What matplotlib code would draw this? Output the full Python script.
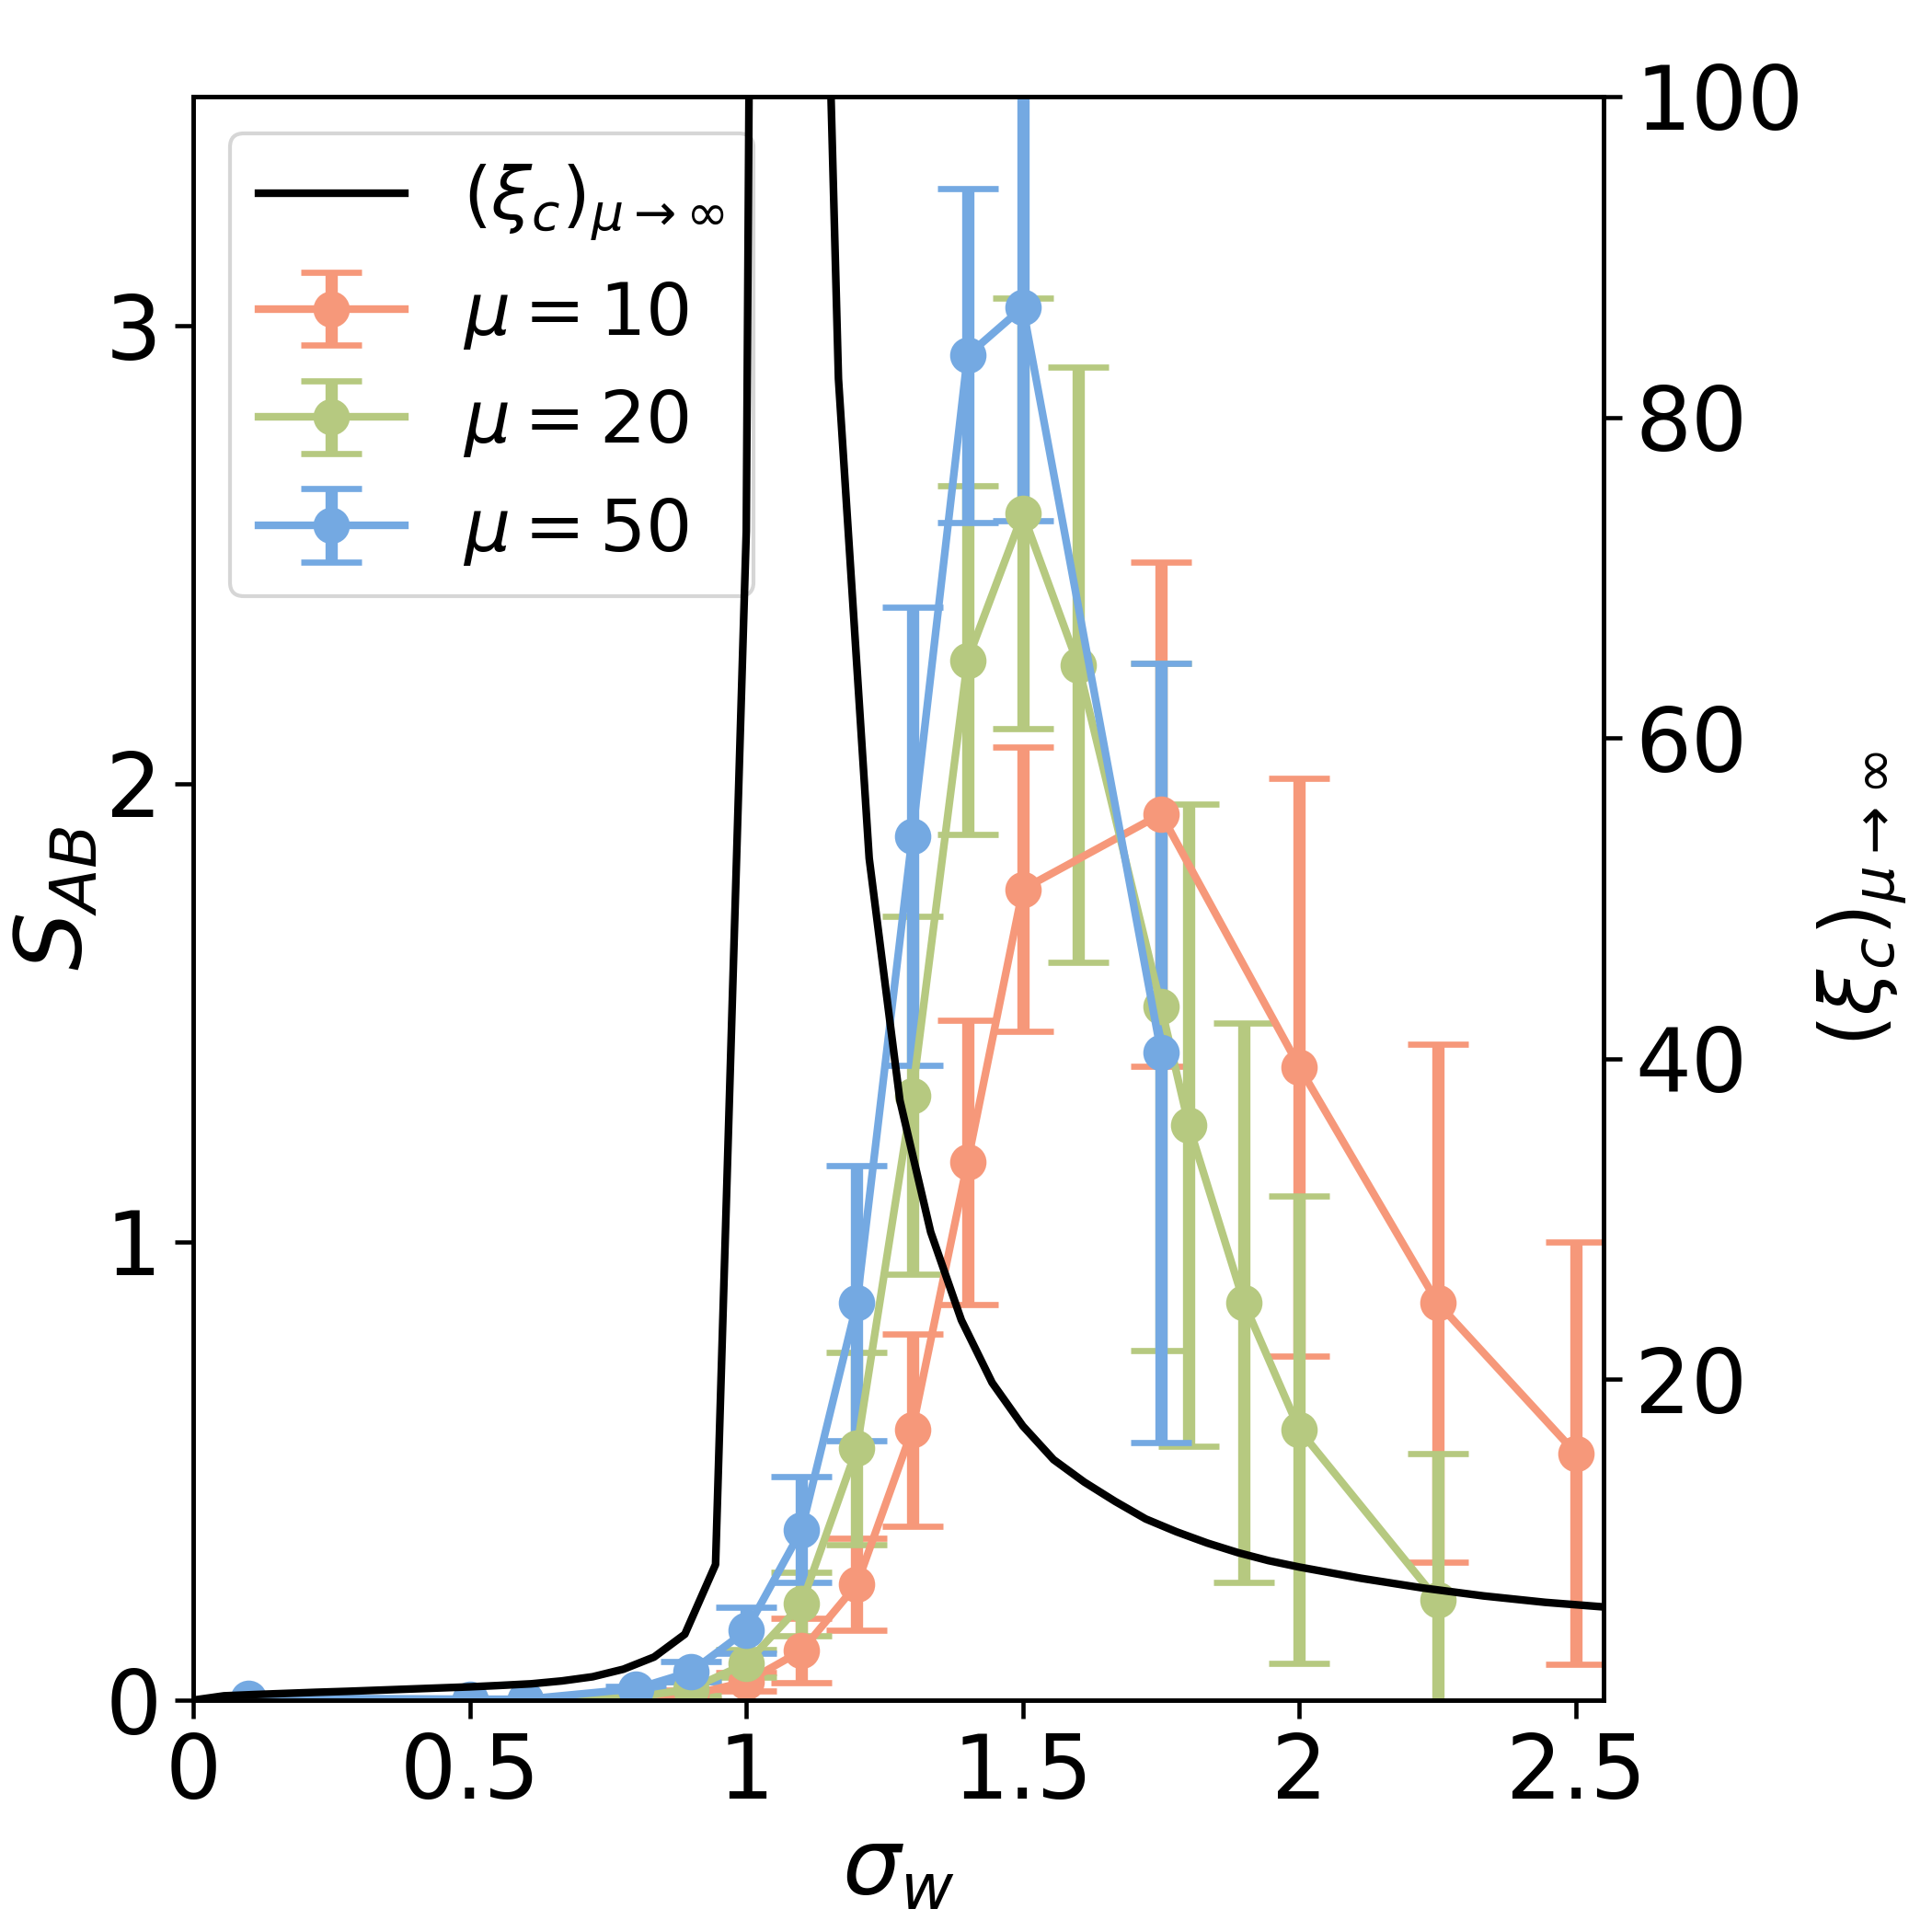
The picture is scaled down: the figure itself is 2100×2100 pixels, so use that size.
import numpy as np
import matplotlib
matplotlib.use("Agg")
import matplotlib.pyplot as plt

# sigma_w grid of the mu -> infinity curve (step 1/18)
sig_inf = [k / 18 for k in range(48)]
xi_inf = [0.0, 0.27, 0.35, 0.42, 0.49, 0.55, 0.62, 0.69, 0.76, 0.83,
          0.92, 1.02, 1.2, 1.46, 1.93, 2.69, 4.11, 8.46, 72.9, 380.0,
          155.0, 82.4, 52.5, 37.4, 29.2, 23.7, 19.8, 17.1, 15.0, 13.6,
          12.4, 11.3, 10.5, 9.8, 9.2, 8.7, 8.3, 7.95, 7.6, 7.3,
          7.0, 6.75, 6.5, 6.3, 6.1, 5.95, 5.8, 5.65]

# mu = 10
sig_10 = [0.1, 0.5, 0.6, 0.8, 0.9, 1.0, 1.1, 1.2, 1.3, 1.4, 1.5, 1.75, 2.0, 2.25, 2.5]
s_10 = [0.0, 0.0, 0.0, 0.003, 0.012, 0.04, 0.108, 0.253, 0.59, 1.174, 1.77, 1.934, 1.382, 0.867, 0.539]
e_10 = [0.0, 0.0, 0.0, 0.003, 0.01, 0.02, 0.07, 0.1, 0.21, 0.31, 0.31, 0.55, 0.63, 0.565, 0.46]

# mu = 20
sig_20 = [0.1, 0.5, 0.6, 0.8, 0.9, 1.0, 1.1, 1.2, 1.3, 1.4, 1.5, 1.6, 1.75, 1.8, 1.9, 2.0, 2.25]
s_20 = [0.0, 0.0, 0.0, 0.006, 0.025, 0.08, 0.21, 0.55, 1.32, 2.27, 2.59, 2.26, 1.514, 1.255, 0.867, 0.59, 0.218]
e_20 = [0.0, 0.0, 0.0, 0.005, 0.015, 0.03, 0.07, 0.21, 0.39, 0.38, 0.47, 0.65, 0.75, 0.7, 0.61, 0.51, 0.32]

# mu = 50
sig_50 = [0.1, 0.5, 0.6, 0.8, 0.9, 1.0, 1.1, 1.2, 1.3, 1.4, 1.5, 1.75]
s_50 = [0.005, 0.002, 0.002, 0.025, 0.062, 0.152, 0.372, 0.867, 1.885, 2.935, 3.04, 1.413]
e_50 = [0.0, 0.0, 0.0, 0.006, 0.022, 0.05, 0.115, 0.3, 0.5, 0.365, 0.465, 0.85]

col_10 = "#F6987A"
col_20 = "#B6C980"
col_50 = "#74A9E2"

plt.rcParams["font.size"] = 23
plt.rcParams["mathtext.fontset"] = "dejavusans"
plt.rcParams["axes.linewidth"] = 1.1
for a in ("xtick", "ytick"):
    plt.rcParams[a + ".major.size"] = 4.7
    plt.rcParams[a + ".major.width"] = 1.1

fig = plt.figure(figsize=(7, 7), dpi=300)
ax = fig.add_axes([0.100, 0.120, 0.730, 0.830])
ax2 = ax.twinx()

style = dict(fmt="-o", markersize=8.5, linewidth=2.0, elinewidth=3.2, capsize=8, capthick=1.6)
h10 = ax.errorbar(sig_10, s_10, yerr=e_10, color=col_10, **style)
h20 = ax.errorbar(sig_20, s_20, yerr=e_20, color=col_20, **style)
h50 = ax.errorbar(sig_50, s_50, yerr=e_50, color=col_50, **style)

hinf, = ax2.plot(sig_inf, xi_inf, color="black", linewidth=2.0)

ax.set_xlim(0, 2.55)
ax.set_ylim(0, 3.5)
ax2.set_ylim(0, 100)

ax.set_xticks([0, 0.5, 1, 1.5, 2, 2.5])
ax.set_xticklabels(["0", "0.5", "1", "1.5", "2", "2.5"])
ax.set_yticks([0, 1, 2, 3])
ax2.set_yticks([20, 40, 60, 80, 100])

ax.set_xlabel(r"$\sigma_w$", fontsize=24, labelpad=2)
ax.set_ylabel(r"$S_{AB}$", fontsize=24, labelpad=1)
ax2.set_ylabel(r"$(\xi_c)_{\mu\to\infty}$", fontsize=21.5, labelpad=3)

ax.legend([hinf, h10, h20, h50],
          [r"$(\xi_c)_{\mu\to\infty}$", r"$\mu = 10$", r"$\mu = 20$", r"$\mu = 50$"],
          loc="upper left", fontsize=19)

fig.savefig("out.png", dpi=300)
